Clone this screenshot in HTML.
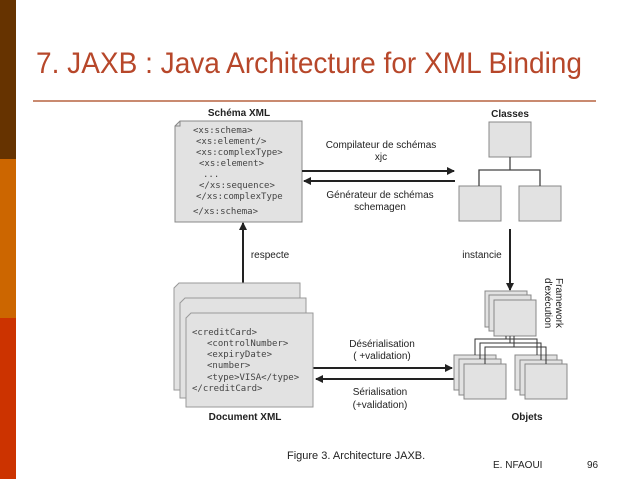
<!DOCTYPE html>
<html><head><meta charset="utf-8"><style>
html,body{margin:0;padding:0;background:#fff;width:638px;height:479px;overflow:hidden}
</style></head><body>
<svg width="638" height="479" viewBox="0 0 638 479" xmlns="http://www.w3.org/2000/svg" font-family="Liberation Sans, sans-serif">
<defs><marker id="ah" markerWidth="8" markerHeight="8" refX="7" refY="4" orient="auto" markerUnits="userSpaceOnUse"><path d="M0,0 L8,4 L0,8 Z" fill="#222"/></marker></defs>
<rect x="0" y="0" width="16" height="159" fill="#663300"/>
<rect x="0" y="159" width="16" height="159" fill="#cc6600"/>
<rect x="0" y="318" width="16" height="161" fill="#cc3300"/>
<text x="36" y="73" font-size="30" fill="#b7472a" textLength="546" lengthAdjust="spacingAndGlyphs">7. JAXB : Java Architecture for XML Binding</text>
<line x1="33" y1="101" x2="596" y2="101" stroke="#c98a70" stroke-width="2"/>
<g font-weight="bold" font-size="10" fill="#222" text-anchor="middle">
<text x="239" y="116">Schéma XML</text><text x="510" y="117">Classes</text>
<text x="245" y="420">Document XML</text><text x="527" y="420">Objets</text></g>
<!-- schema doc -->
<path d="M180,121 L302,121 L302,222 L175,222 L175,126 Z" fill="#e2e2e2" stroke="#888"/>
<path d="M175,126 L180,126 L180,121" fill="none" stroke="#888"/>
<g font-family="DejaVu Sans Mono, monospace" font-size="9" fill="#444">
<text x="193" y="133">&lt;xs:schema&gt;</text><text x="196" y="144">&lt;xs:element/&gt;</text>
<text x="196" y="155">&lt;xs:complexType&gt;</text><text x="199" y="166">&lt;xs:element&gt;</text>
<text x="203" y="177">...</text><text x="199" y="188">&lt;/xs:sequence&gt;</text>
<text x="196" y="199">&lt;/xs:complexType</text><text x="193" y="214">&lt;/xs:schema&gt;</text></g>
<g fill="#222" font-size="10" text-anchor="middle">
<text x="381" y="148">Compilateur de schémas</text><text x="381" y="160">xjc</text>
<text x="380" y="198">Générateur de schémas</text><text x="380" y="210">schemagen</text>
<text x="382" y="347">Désérialisation</text><text x="382" y="359">( +validation)</text>
<text x="380" y="395">Sérialisation</text><text x="380" y="408">(+validation)</text>
<text x="270" y="258">respecte</text><text x="482" y="258">instancie</text></g>
<text transform="translate(556,278) rotate(90)" font-size="10" fill="#222">Framework</text>
<text transform="translate(545,278) rotate(90)" font-size="10" fill="#222">d'exécution</text>
<g stroke="#222" stroke-width="2" fill="none">
<line x1="302" y1="171" x2="454" y2="171" marker-end="url(#ah)"/>
<line x1="455" y1="181" x2="304" y2="181" marker-end="url(#ah)"/>
<line x1="313" y1="368" x2="452" y2="368" marker-end="url(#ah)"/>
<line x1="455" y1="379" x2="316" y2="379" marker-end="url(#ah)"/>
<line x1="243" y1="290" x2="243" y2="223" marker-end="url(#ah)"/>
<line x1="510" y1="229" x2="510" y2="290" marker-end="url(#ah)"/>
</g>
<!-- classes -->
<g fill="#e2e2e2" stroke="#888">
<rect x="489" y="122" width="42" height="35"/><rect x="459" y="186" width="42" height="35"/><rect x="519" y="186" width="42" height="35"/></g>
<path d="M510,157 V170 M479,186 V170 H540 V186" stroke="#444" fill="none" stroke-width="1.3"/>
<!-- doc stack -->
<g fill="#e2e2e2" stroke="#999">
<path d="M179,283 L300,283 L300,390 L174,390 L174,288 Z"/>
<path d="M185,298 L306,298 L306,398 L180,398 L180,303 Z"/>
<path d="M191,313 L313,313 L313,407 L186,407 L186,318 Z"/>
</g>
<g font-family="DejaVu Sans Mono, monospace" font-size="9" fill="#444">
<text x="192" y="335">&lt;creditCard&gt;</text><text x="207" y="346">&lt;controlNumber&gt;</text>
<text x="207" y="357">&lt;expiryDate&gt;</text><text x="207" y="368">&lt;number&gt;</text>
<text x="207" y="380">&lt;type&gt;VISA&lt;/type&gt;</text><text x="192" y="391">&lt;/creditCard&gt;</text></g>
<!-- objects -->
<g fill="#e2e2e2" stroke="#888">
<rect x="485" y="291" width="42" height="36"/><rect x="489" y="295" width="42" height="36"/><rect x="494" y="300" width="42" height="36"/>
<rect x="454" y="355" width="42" height="35"/><rect x="459" y="359" width="42" height="36"/><rect x="464" y="364" width="42" height="35"/>
<rect x="515" y="355" width="42" height="35"/><rect x="520" y="360" width="42" height="35"/><rect x="525" y="364" width="42" height="35"/></g>
<path d="M506,336 V339 H475 V355 M506,339 H537 V355 M510,336 V343 H480 V359 M510,343 H541 V360 M514,336 V347 H485 V364 M514,347 H546 V364" stroke="#333" fill="none"/>
<g font-family="Liberation Sans, sans-serif" fill="#222">
<text x="287" y="459" font-size="11">Figure 3. Architecture JAXB.</text>
<text x="493" y="468" font-size="10">E. NFAOUI</text><text x="587" y="468" font-size="10">96</text></g>
</svg>
</body></html>
